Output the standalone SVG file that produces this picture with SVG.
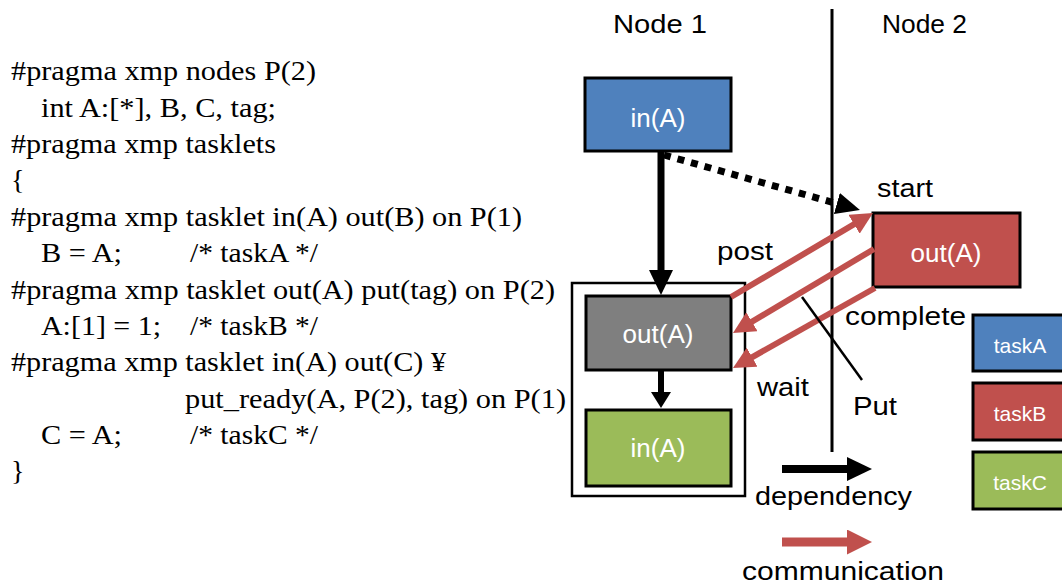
<svg xmlns="http://www.w3.org/2000/svg" width="1062" height="585" viewBox="0 0 1062 585">
<style>
.code{font-family:"Liberation Serif","Times New Roman",serif;font-size:28px;fill:#000}
.lbl{font-family:"Liberation Sans",Arial,sans-serif;font-size:26px;fill:#000}
.in{font-family:"Liberation Sans",Arial,sans-serif;font-size:26px;fill:#fff;text-anchor:middle}
.leg{font-family:"Liberation Sans",Arial,sans-serif;font-size:21px;fill:#fff;text-anchor:middle}
.box{stroke:#000;stroke-width:3}
.blue{fill:#4F81BD}.red{fill:#C0504D}.gray{fill:#7F7F7F}.green{fill:#9BBB59}
.dep{stroke:#000;fill:none}
.com{stroke:#C0504D;stroke-width:6;fill:none;marker-end:url(#hr)}
</style>
<defs>
<marker id="hb" markerUnits="userSpaceOnUse" viewBox="0 0 25 24" markerWidth="25" markerHeight="24" refX="15" refY="12" orient="auto"><path d="M0,0 L25,12 L0,24 z" fill="#000"/></marker>
<marker id="hbs" markerUnits="userSpaceOnUse" viewBox="0 0 16 20" markerWidth="16" markerHeight="20" refX="8" refY="10" orient="auto"><path d="M0,0 L16,10 L0,20 z" fill="#000"/></marker>
<marker id="hbd" markerUnits="userSpaceOnUse" viewBox="0 0 24 22" markerWidth="24" markerHeight="22" refX="12" refY="11" orient="auto"><path d="M0,0 L24,11 L0,22 z" fill="#000"/></marker>
<marker id="hr" markerUnits="userSpaceOnUse" viewBox="0 0 22 22" markerWidth="22" markerHeight="22" refX="12" refY="11" orient="auto"><path d="M0,0 L22,11 L0,22 z" fill="#C0504D"/></marker>
<marker id="hrl" markerUnits="userSpaceOnUse" viewBox="0 0 25 25" markerWidth="25" markerHeight="25" refX="15" refY="12.5" orient="auto"><path d="M0,0 L25,12.5 L0,25 z" fill="#C0504D"/></marker>
</defs>
<rect width="1062" height="585" fill="#fff"/>

<g id="code">
<text class="code" x="11" y="80" textLength="305" lengthAdjust="spacingAndGlyphs">#pragma xmp nodes P(2)</text>
<text class="code" x="41" y="116.5" textLength="235" lengthAdjust="spacingAndGlyphs">int A:[*], B, C, tag;</text>
<text class="code" x="11" y="153" textLength="265" lengthAdjust="spacingAndGlyphs">#pragma xmp tasklets</text>
<text class="code" x="11" y="189">{</text>
<text class="code" x="11" y="225.5" textLength="511" lengthAdjust="spacingAndGlyphs">#pragma xmp tasklet in(A) out(B) on P(1)</text>
<text class="code" x="41" y="262" textLength="81" lengthAdjust="spacingAndGlyphs">B = A;</text>
<text class="code" x="190" y="262" textLength="128" lengthAdjust="spacingAndGlyphs">/* taskA */</text>
<text class="code" x="11" y="298.5" textLength="544" lengthAdjust="spacingAndGlyphs">#pragma xmp tasklet out(A) put(tag) on P(2)</text>
<text class="code" x="41" y="335" textLength="120" lengthAdjust="spacingAndGlyphs">A:[1] = 1;</text>
<text class="code" x="190" y="335" textLength="128" lengthAdjust="spacingAndGlyphs">/* taskB */</text>
<text class="code" x="11" y="371" textLength="435" lengthAdjust="spacingAndGlyphs">#pragma xmp tasklet in(A) out(C) ¥</text>
<text class="code" x="185" y="407.5" textLength="381" lengthAdjust="spacingAndGlyphs">put_ready(A, P(2), tag) on P(1)</text>
<text class="code" x="41" y="444" textLength="81" lengthAdjust="spacingAndGlyphs">C = A;</text>
<text class="code" x="190" y="444" textLength="128" lengthAdjust="spacingAndGlyphs">/* taskC */</text>
<text class="code" x="11" y="480">}</text>
</g>

<g id="headers">
<text class="lbl" x="613" y="33" textLength="94" lengthAdjust="spacingAndGlyphs">Node 1</text>
<text class="lbl" x="882" y="33" textLength="85" lengthAdjust="spacingAndGlyphs">Node 2</text>
<line x1="832" y1="9" x2="832" y2="452" stroke="#000" stroke-width="3"/>
</g>

<g id="group-node1">
<rect x="572" y="283" width="173" height="213" fill="none" stroke="#000" stroke-width="2.5"/>
</g>

<g id="taskA-in">
<rect class="box blue" x="585" y="78" width="146" height="73"/>
<text class="in" x="658" y="127">in(A)</text>
</g>
<g id="taskB-out-node1">
<rect class="box gray" x="586" y="296" width="145" height="74"/>
<text class="in" x="658" y="343">out(A)</text>
</g>
<g id="taskC-in">
<rect class="box green" x="586" y="410" width="145" height="76"/>
<text class="in" x="658" y="457">in(A)</text>
</g>
<g id="taskB-out-node2">
<rect class="box red" x="873" y="213" width="147" height="74"/>
<text class="in" x="946" y="262">out(A)</text>
</g>

<g id="legend-tasks">
<rect class="box blue" x="973" y="315" width="100" height="56"/>
<text class="leg" x="1020" y="353">taskA</text>
<rect class="box red" x="973" y="383" width="100" height="57"/>
<text class="leg" x="1020" y="421">taskB</text>
<rect class="box green" x="973" y="452" width="100" height="57"/>
<text class="leg" x="1020" y="490">taskC</text>
</g>

<g id="connectors">
<line class="dep" x1="661" y1="152" x2="661" y2="285" stroke-width="7" marker-end="url(#hb)"/>
<line class="dep" x1="661" y1="370" x2="661" y2="400" stroke-width="6" marker-end="url(#hbs)"/>
<line class="dep" x1="664" y1="155" x2="848.4" y2="206.8" stroke-width="7" stroke-dasharray="7 7" marker-end="url(#hbd)"/>
<line class="com" x1="731" y1="297" x2="864.4" y2="218.1"/>
<line class="com" x1="874" y1="249" x2="741.6" y2="327.9"/>
<line class="com" x1="875" y1="288" x2="741.7" y2="363.1"/>
<line x1="802" y1="297" x2="862" y2="380" stroke="#000" stroke-width="2.5"/>
</g>

<g id="labels">
<text class="lbl" x="877" y="197" textLength="56" lengthAdjust="spacingAndGlyphs">start</text>
<text class="lbl" x="717" y="260" textLength="56" lengthAdjust="spacingAndGlyphs">post</text>
<text class="lbl" x="845" y="325" textLength="121" lengthAdjust="spacingAndGlyphs">complete</text>
<text class="lbl" x="757" y="396" textLength="52" lengthAdjust="spacingAndGlyphs">wait</text>
<text class="lbl" x="853" y="415" textLength="44" lengthAdjust="spacingAndGlyphs">Put</text>
</g>

<g id="legend-arrows">
<line class="dep" x1="782" y1="469" x2="862" y2="469" stroke-width="8" marker-end="url(#hb)"/>
<text class="lbl" x="755" y="505" textLength="157" lengthAdjust="spacingAndGlyphs">dependency</text>
<line x1="782" y1="542" x2="862" y2="542" stroke="#C0504D" stroke-width="9" marker-end="url(#hrl)"/>
<text class="lbl" x="742" y="580" textLength="202" lengthAdjust="spacingAndGlyphs">communication</text>
</g>
</svg>
